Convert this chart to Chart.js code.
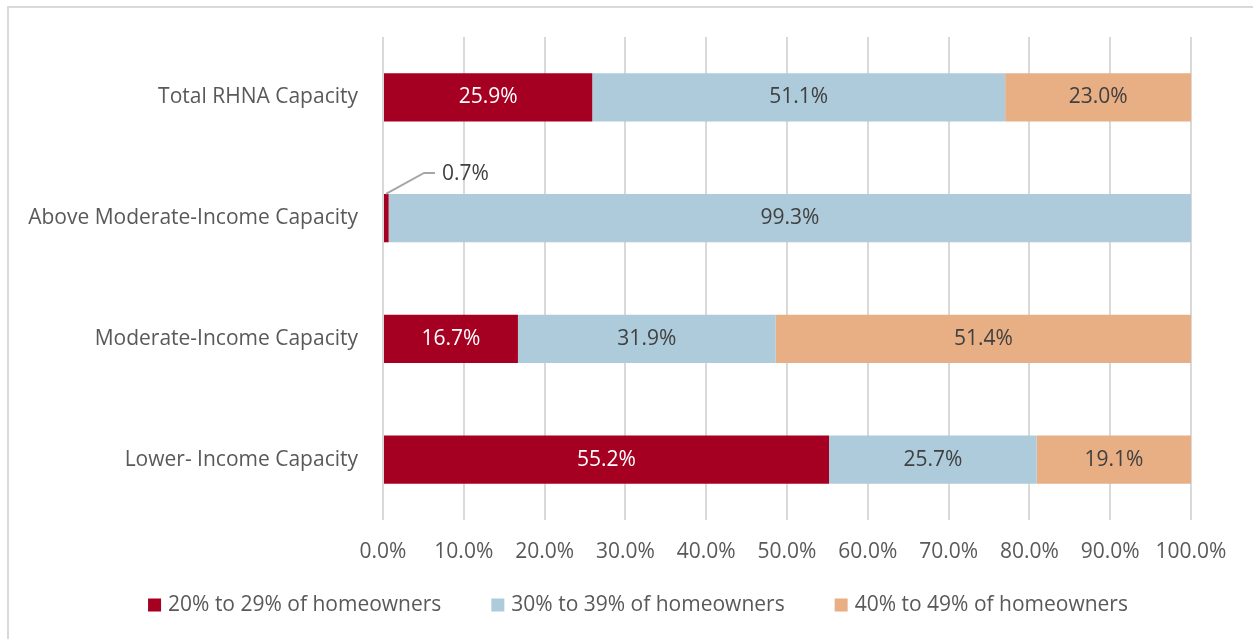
<!DOCTYPE html>
<html>
<head>
<meta charset="utf-8">
<script src="https://cdn.jsdelivr.net/npm/chart.js@4.4.1/dist/chart.umd.min.js"></script>
<style>
  html, body { margin: 0; padding: 0; background: #fff; }
  #wrap { position: relative; width: 1253px; height: 639px; overflow: hidden; }
  #frame { position: absolute; left: 7px; top: 6px; width: 1300px; height: 700px; border: 2px solid #d9d9d9; box-sizing: border-box; }
  canvas { position: absolute; left: 0; top: 0; }
</style>
</head>
<body>
<div id="wrap">
  <div id="frame"></div>
  <canvas id="chart" width="1253" height="639"></canvas>
</div>
<script>
// capacity groups, top to bottom
const categories = [
  'Total RHNA Capacity',
  'Above Moderate-Income Capacity',
  'Moderate-Income Capacity',
  'Lower- Income Capacity'
];

const seriesNames = ['20% to 29% of homeowners', '30% to 39% of homeowners', '40% to 49% of homeowners'];
const share20to29 = [25.9, 0.7, 16.7, 55.2];
const share30to39 = [51.1, 99.3, 31.9, 25.7];
const share40to49 = [23.0, 0, 51.4, 19.1];
const xTicks = [0, 10, 20, 30, 40, 50, 60, 70, 80, 90, 100];

const colors = ['#a50021', '#aecbdb', '#e8ae84'];
const labelColors = ['#ffffff', '#404040', '#404040'];
const FONT = '"Open Sans", "Liberation Sans", sans-serif';
const FONT_SIZE = 21;

// value labels inside segments; small ones get a leader line above the bar
const segmentLabels = {
  id: 'segmentLabels',
  afterDatasetsDraw(chart) {
    const ctx = chart.ctx;
    ctx.save();
    ctx.font = FONT_SIZE + 'px ' + FONT;
    chart.data.datasets.forEach((ds, di) => {
      const meta = chart.getDatasetMeta(di);
      meta.data.forEach((bar, i) => {
        const v = ds.data[i];
        if (!v) return;
        const text = v.toFixed(1) + '%';
        if (v < 3) {
          const x0 = bar.base + 2, y0 = bar.y - bar.height / 2;
          ctx.strokeStyle = '#a6a6a6';
          ctx.lineWidth = 2;
          ctx.beginPath();
          ctx.moveTo(x0, y0);
          ctx.lineTo(x0 + 38, y0 - 21);
          ctx.lineTo(x0 + 49, y0 - 21);
          ctx.stroke();
          ctx.fillStyle = '#404040';
          ctx.textAlign = 'left';
          ctx.textBaseline = 'middle';
          ctx.fillText(text, x0 + 56, y0 - 20);
          return;
        }
        ctx.fillStyle = labelColors[di];
        ctx.textAlign = 'center';
        ctx.textBaseline = 'middle';
        ctx.fillText(text, (bar.base + bar.x) / 2, bar.y);
      });
    });
    ctx.restore();
  }
};

// legend row under the axis, wide gaps between entries
const legendRow = {
  id: 'legendRow',
  afterDraw(chart) {
    const ctx = chart.ctx;
    const box = 13, gapText = 7, gapItem = 50, y = 605;
    ctx.save();
    ctx.font = FONT_SIZE + 'px ' + FONT;
    const items = chart.data.datasets.map(ds => ({
      text: ds.label, color: ds.backgroundColor, w: box + gapText + ctx.measureText(ds.label).width
    }));
    const total = items.reduce((s, it) => s + it.w, 0) + gapItem * (items.length - 1);
    let x = 638 - total / 2;
    items.forEach(it => {
      ctx.fillStyle = it.color;
      ctx.fillRect(x, y - box / 2, box, box);
      ctx.fillStyle = '#595959';
      ctx.textAlign = 'left';
      ctx.textBaseline = 'middle';
      ctx.fillText(it.text, x + box + gapText, y);
      x += it.w + gapItem;
    });
    ctx.restore();
  }
};

new Chart(document.getElementById('chart'), {
  type: 'bar',
  data: {
    labels: categories,
    datasets: [share20to29, share30to39, share40to49].map((d, i) => ({
      label: seriesNames[i],
      data: d,
      backgroundColor: colors[i],
      borderWidth: 0,
      categoryPercentage: 0.4,
      barPercentage: 1
    }))
  },
  options: {
    indexAxis: 'y',
    responsive: false,
    animation: false,
    layout: { padding: { top: 37, right: 62, left: 0, bottom: 69 } },
    scales: {
      x: {
        stacked: true,
        min: 0,
        max: 100,
        afterBuildTicks: scale => { scale.ticks = xTicks.map(v => ({ value: v })); },
        afterFit: scale => { scale.height = 50; },
        grid: { color: '#d9d9d9', lineWidth: 2, drawTicks: false },
        border: { display: false },
        ticks: {
          padding: 19,
          color: '#595959',
          font: { size: FONT_SIZE, family: FONT },
          callback: v => v.toFixed(1) + '%'
        }
      },
      y: {
        stacked: true,
        afterFit: scale => { scale.width = 383; },
        grid: { display: false },
        border: { display: false },
        ticks: {
          padding: 17,
          color: '#595959',
          font: { size: FONT_SIZE, family: FONT }
        }
      }
    },
    plugins: {
      legend: { display: false },
      tooltip: { enabled: false }
    }
  },
  plugins: [segmentLabels, legendRow]
});
</script>
</body>
</html>
